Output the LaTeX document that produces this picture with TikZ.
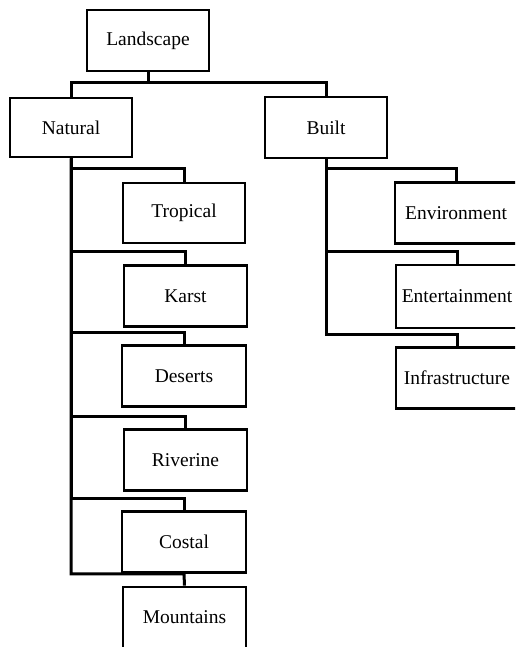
\documentclass[tikz,border=0pt]{standalone}
\usepackage{fontspec}
\setmainfont{Liberation Serif}
\begin{document}
\begin{tikzpicture}[x=1pt,y=-1pt,
  box/.style={draw, line width=2.9pt, minimum width=122pt, minimum height=61pt, inner sep=0pt,
    font=\fontsize{19.5}{22}\selectfont},
  link/.style={line width=3pt}]
\useasboundingbox (0,0) rectangle (515,647);
\clip (0,0) rectangle (515,647);
\node[box] (land) at (148,40.5) {Landscape};
\node[box, minimum height=59pt] (nat) at (71,127.5) {Natural};
\node[box] (built) at (326,127.5) {Built};
\node[box, minimum height=60pt] (trop) at (184,213) {Tropical};
\node[box, minimum width=123pt] (karst) at (185.5,296) {Karst};
\node[box, minimum width=124pt] (des) at (184,376) {Deserts};
\node[box, minimum width=123pt] (riv) at (185.5,460) {Riverine};
\node[box, minimum width=124pt] (cos) at (184,542) {Costal};
\node[box, minimum width=123pt] (mount) at (184.5,617.5) {Mountains};
\node[box] (env) at (456,213) {Environment};
\node[box, minimum height=63pt] (ent) at (457,296.5) {Entertainment};
\node[box] (infra) at (457,378) {Infrastructure};
\coordinate (j) at (148,83);
\draw[link] (land.south) -- (j);
\draw[link] (nat.north) -- (nat.north |- j) -- (built.north |- j) -- (built.north);
\draw[link] (nat.south) |- (cos.south) -- (mount.north);
\draw[link] (trop.north) -- ++(0,-13) -| (nat.south);
\draw[link] (karst.north) -- ++(0,-13) -| (nat.south);
\draw[link] (des.north) -- ++(0,-12) -| (nat.south);
\draw[link] (riv.north) -- ++(0,-12) -| (nat.south);
\draw[link] (cos.north) -- ++(0,-12) -| (nat.south);
\draw[link] (env.north) -- ++(0,-13) -| (built.south);
\draw[link] (ent.north) -- ++(0,-12) -| (built.south);
\draw[link] (infra.north) -- ++(0,-12) -| (built.south);
\end{tikzpicture}
\end{document}
